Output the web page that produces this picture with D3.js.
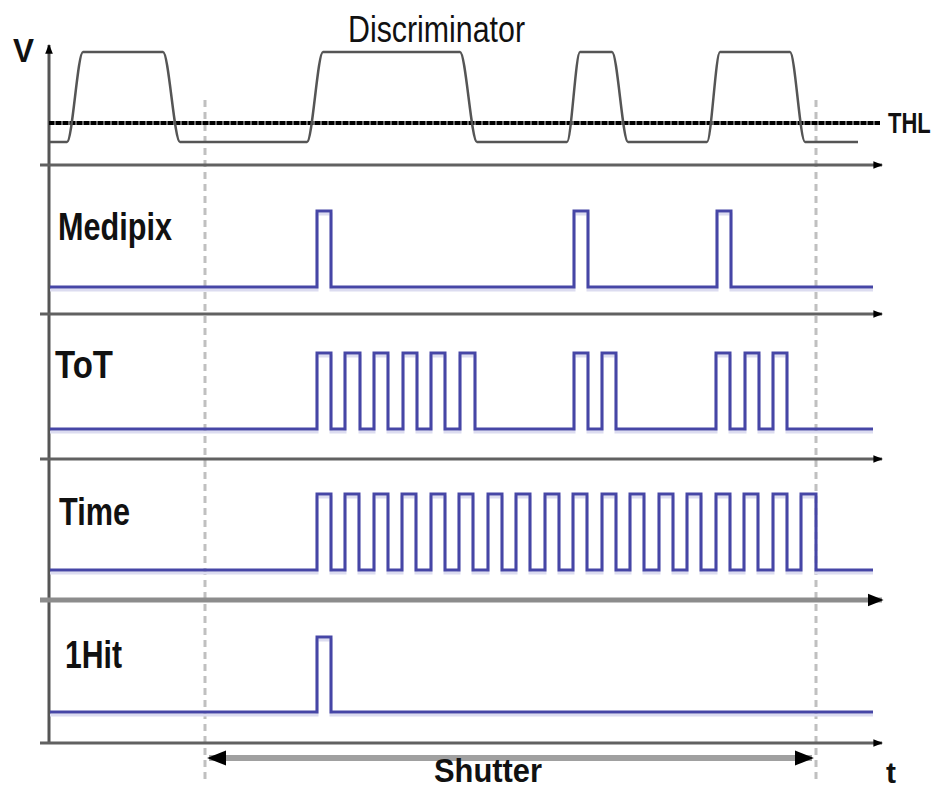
<!DOCTYPE html>
<html>
<head>
<meta charset="utf-8">
<script src="https://cdn.jsdelivr.net/npm/d3@7"></script>
<style>
  html, body { margin: 0; padding: 0; background: #fff; }
  svg { display: block; }
  text { font-family: "Liberation Sans", Arial, sans-serif; fill: #111; }
</style>
</head>
<body>
<div id="chart"></div>
<script>
// Timing diagram: analogue discriminator output vs. the four counter modes.
// Time is in arbitrary units, level 0 = low, 1 = high.

const discT = [2, 19, 35, 115, 132, 259, 275, 412, 429, 519, 532, 564, 580, 659, 672, 742, 757, 810];
const discV = [0, 0, 1, 1, 0, 0, 1, 1, 0, 0, 1, 1, 0, 0, 1, 1, 0, 0];
const thresholdLevel = 0.21;

const laneNames = ["Medipix", "ToT", "Time", "1Hit"];
const medipixPulses = [[269, 283], [526, 540], [669, 683]];
const totPulses = [
  [269, 283], [297, 312], [326, 340], [355, 369], [383, 397], [412, 427],
  [526, 540], [554, 568],
  [668, 682], [697, 711], [725, 739]
];
const timeRises = [269, 297, 326, 354, 383, 411, 440, 468, 497, 525, 554, 582, 611, 639, 668, 696, 725, 753];
const timeFalls = [283, 311, 340, 368, 397, 425, 454, 482, 511, 539, 568, 596, 625, 653, 682, 710, 739, 768];
const oneHitPulses = [[269, 283]];
const signalSpan = [2, 825];
const shutterSpan = [157, 768];

const W = 934, H = 790;
const x = d3.scaleLinear([0, 835], [48, 883]);
const axisX = 49, axisTop = 45, axisEnd = 882;
const seps = [165, 314, 459, 600, 743];
const laneLevels = [[287, 211], [429, 353], [570, 494], [712, 637]];
const laneLabel = [
  { x: 58, y: 240, len: 114 }, { x: 55, y: 378, len: 58 },
  { x: 59, y: 525, len: 71 }, { x: 65, y: 668, len: 57 }
];
const blue = "#4646a6";

const svg = d3.select("#chart").append("svg").attr("width", W).attr("height", H);

const defs = svg.append("defs");
defs.append("marker").attr("id", "arr").attr("viewBox", "0 0 10 10")
  .attr("refX", 9).attr("refY", 5).attr("markerWidth", 3.2).attr("markerHeight", 3.2)
  .attr("orient", "auto-start-reverse")
  .append("path").attr("d", "M0,1L10,5L0,9z").attr("fill", "#000");

// shutter window boundaries
svg.append("g").selectAll("line.win").data(shutterSpan).join("line")
  .attr("x1", (d) => x(d)).attr("x2", (d) => x(d))
  .attr("y1", 100).attr("y2", 780)
  .attr("stroke", "#c0c0c0").attr("stroke-width", 3).attr("stroke-dasharray", "7,5");

// axes: vertical V axis and one time axis per lane
svg.append("line").attr("x1", axisX).attr("x2", axisX).attr("y1", seps[4] + 1).attr("y2", axisTop)
  .attr("stroke", "#555").attr("stroke-width", 3).attr("marker-end", "url(#arr)");
svg.append("g").selectAll("line.sep").data(seps).join("line")
  .attr("x1", 40).attr("x2", axisEnd)
  .attr("y1", (d) => d).attr("y2", (d) => d)
  .attr("stroke", (d, i) => (i === 3 ? "#8c8c8c" : "#616161"))
  .attr("stroke-width", (d, i) => (i === 3 ? 5 : 3))
  .attr("marker-end", "url(#arr)");

// discriminator output and threshold
const yDisc = d3.scaleLinear([0, 1], [142, 52]);
const thY = yDisc(thresholdLevel);
svg.append("line").attr("x1", axisX).attr("x2", x(832)).attr("y1", thY).attr("y2", thY)
  .attr("stroke", "#6a6a6a").attr("stroke-width", 4);
svg.append("line").attr("x1", axisX).attr("x2", x(832)).attr("y1", thY).attr("y2", thY)
  .attr("stroke", "#000").attr("stroke-width", 4).attr("stroke-dasharray", "5,2");
svg.append("path")
  .attr("d", d3.line().x((d, i) => x(discT[i])).y((d) => yDisc(d)).curve(d3.curveMonotoneX)(discV))
  .attr("fill", "none").attr("stroke", "#555").attr("stroke-width", 2.5);

// digital lanes
function toSteps(pulses) {
  const pts = [[signalSpan[0], 0]];
  pulses.forEach(([r, f]) => pts.push([r, 0], [r, 1], [f, 1], [f, 0]));
  pts.push([signalSpan[1], 0]);
  return pts;
}
const lanePulses = [medipixPulses, totPulses, timeRises.map((r, i) => [r, timeFalls[i]]), oneHitPulses];

lanePulses.forEach((pulses, li) => {
  const y = d3.scaleLinear([0, 1], laneLevels[li]);
  const line = d3.line().x((d) => x(d[0])).y((d) => y(d[1]));
  const pts = toSteps(pulses);
  svg.append("path").attr("d", line(pts)).attr("transform", "translate(0,3)")
    .attr("fill", "none").attr("stroke", "#dcdcf0").attr("stroke-width", 3);
  svg.append("path").attr("d", line(pts))
    .attr("fill", "none").attr("stroke", blue).attr("stroke-width", 3);
  const lb = laneLabel[li];
  svg.append("text").attr("x", lb.x).attr("y", lb.y)
    .attr("font-size", 38).attr("font-weight", "bold")
    .attr("textLength", lb.len).attr("lengthAdjust", "spacingAndGlyphs")
    .text(laneNames[li]);
});

// shutter bar
svg.append("line").attr("x1", x(shutterSpan[0]) + 4).attr("x2", x(shutterSpan[1]) - 4)
  .attr("y1", 758).attr("y2", 758)
  .attr("stroke", "#a0a0a0").attr("stroke-width", 6)
  .attr("marker-start", "url(#arr)").attr("marker-end", "url(#arr)");

// texts
const txt = (s, px, py, size, len, bold) => svg.append("text")
  .attr("x", px).attr("y", py).attr("font-size", size)
  .attr("font-weight", bold ? "bold" : "normal")
  .attr("textLength", len).attr("lengthAdjust", "spacingAndGlyphs").text(s);
txt("Discriminator", 348, 42, 36, 177, false);
txt("V", 13, 62, 34, 21, true);
txt("Shutter", 434, 782, 33, 108, true);
txt("t", 886, 783, 30, 10, true);
// THL: small font stretched vertically so it stays inside the right edge
svg.append("text").attr("transform", "translate(888,133) scale(1,1.3)")
  .attr("font-size", 22).attr("font-weight", "bold").text("THL");
</script>
</body>
</html>
